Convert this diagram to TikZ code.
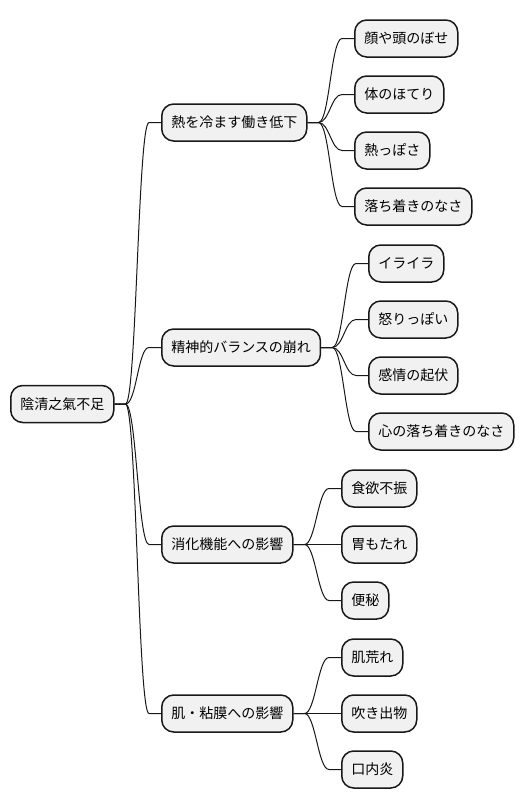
\documentclass[tikz,border=0pt]{standalone}
\usepackage{fontspec}
\setmainfont{Noto Sans CJK JP}
\usetikzlibrary{calc}
\definecolor{boxfill}{HTML}{F1F1F1}
\definecolor{boxline}{HTML}{181818}
\tikzset{
  topic/.style={draw=boxline, fill=boxfill, line width=1.5pt, rounded corners=12pt,
    anchor=west, minimum height=37pt, inner xsep=9.5pt, text height=12pt, text depth=1.4pt,
    font=\fontsize{14}{16}\selectfont},
  branch/.style={draw=boxline, line width=1pt,
    to path={-- ++(11,0) .. controls +(11,0) and +(-11,0) .. ($(\tikztotarget)+(-12,0)$) -- (\tikztotarget)}},
}
\begin{document}
\begin{tikzpicture}[x=1pt, y=-1pt]
\useasboundingbox (0,0) rectangle (530,809);
\node[topic] (root) at (10, 404) {陰清之氣不足};

\node[topic] (heat)   at (161, 122.5) {熱を冷ます働き低下};
\node[topic] (mind)   at (161, 347.5) {精神的バランスの崩れ};
\node[topic] (digest) at (161, 544.5) {消化機能への影響};
\node[topic] (skin)   at (161, 713.5) {肌・粘膜への影響};

\node[topic] (heat1) at (354,  38.5) {顔や頭のぼせ};
\node[topic] (heat2) at (354,  94.5) {体のほてり};
\node[topic] (heat3) at (354, 150.5) {熱っぽさ};
\node[topic] (heat4) at (354, 206.5) {落ち着きのなさ};

\node[topic] (mind1) at (368, 263.5) {イライラ};
\node[topic] (mind2) at (368, 319.5) {怒りっぽい};
\node[topic] (mind3) at (368, 375.5) {感情の起伏};
\node[topic] (mind4) at (368, 431.5) {心の落ち着きのなさ};

\node[topic] (digest1) at (341, 488.5) {食欲不振};
\node[topic] (digest2) at (341, 544.5) {胃もたれ};
\node[topic] (digest3) at (341, 600.5) {便秘};

\node[topic] (skin1) at (341, 657.5) {肌荒れ};
\node[topic] (skin2) at (341, 713.5) {吹き出物};
\node[topic] (skin3) at (341, 769.5) {口内炎};

% connectors
\foreach \c in {heat, mind, digest, skin}
  \path (root.east) edge[branch] (\c.west);
\foreach \c in {1,...,4} {
  \path (heat.east) edge[branch] (heat\c.west);
  \path (mind.east) edge[branch] (mind\c.west);
}
\foreach \c in {1,2,3} {
  \path (digest.east) edge[branch] (digest\c.west);
  \path (skin.east) edge[branch] (skin\c.west);
}
\end{tikzpicture}
\end{document}
